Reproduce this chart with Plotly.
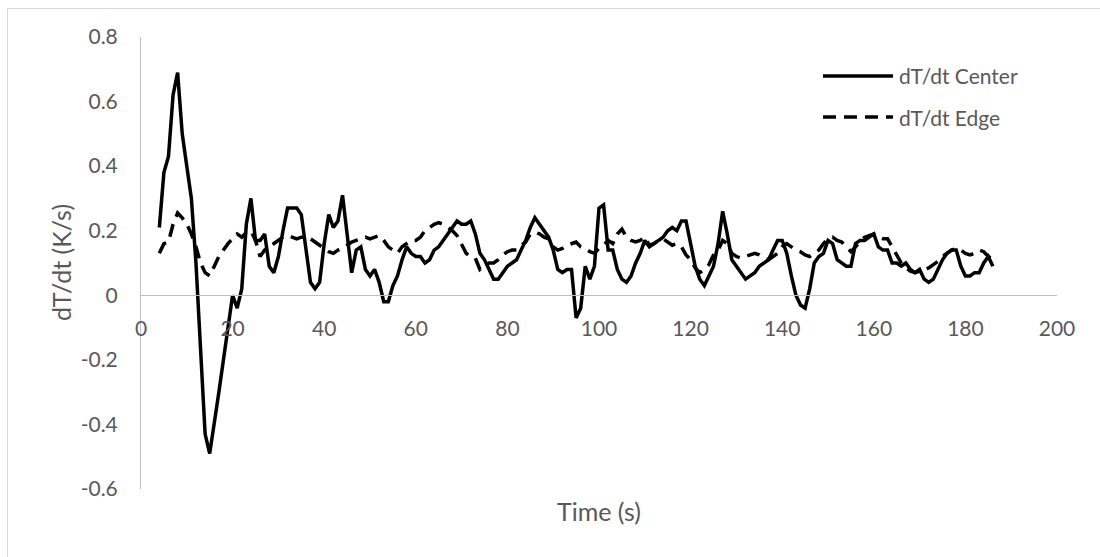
import plotly.graph_objects as go

time_s = list(range(4, 187))

center = [
    0.21, 0.38, 0.43, 0.62, 0.69, 0.50, 0.40, 0.30, 0.10, -0.17,
    -0.43, -0.49, -0.40, -0.30, -0.20, -0.10, 0.00, -0.04, 0.02, 0.22,
    0.30, 0.17, 0.17, 0.19, 0.09, 0.07, 0.12, 0.20, 0.27, 0.27,
    0.27, 0.25, 0.14, 0.04, 0.02, 0.04, 0.16, 0.25, 0.21, 0.23,
    0.31, 0.18, 0.07, 0.14, 0.15, 0.08, 0.06, 0.08, 0.04, -0.02,
    -0.02, 0.03, 0.06, 0.11, 0.15, 0.13, 0.12, 0.12, 0.10, 0.11,
    0.14, 0.15, 0.17, 0.19, 0.21, 0.23, 0.22, 0.22, 0.23, 0.19,
    0.13, 0.11, 0.08, 0.05, 0.05, 0.07, 0.09, 0.10, 0.11, 0.14,
    0.17, 0.21, 0.24, 0.22, 0.20, 0.18, 0.14, 0.08, 0.07, 0.08,
    0.08, -0.07, -0.04, 0.09, 0.05, 0.09, 0.27, 0.28, 0.14, 0.14,
    0.08, 0.05, 0.04, 0.06, 0.10, 0.13, 0.17, 0.15, 0.16, 0.17,
    0.18, 0.20, 0.21, 0.20, 0.23, 0.23, 0.16, 0.09, 0.05, 0.03,
    0.06, 0.09, 0.16, 0.26, 0.19, 0.11, 0.09, 0.07, 0.05, 0.06,
    0.07, 0.09, 0.10, 0.11, 0.14, 0.17, 0.17, 0.13, 0.06, 0.00,
    -0.03, -0.04, 0.02, 0.10, 0.12, 0.13, 0.17, 0.16, 0.11, 0.10,
    0.09, 0.09, 0.16, 0.17, 0.17, 0.18, 0.19, 0.15, 0.14, 0.14,
    0.10, 0.10, 0.09, 0.10, 0.08, 0.07, 0.08, 0.05, 0.04, 0.05,
    0.08, 0.11, 0.13, 0.14, 0.14, 0.09, 0.06, 0.06, 0.07, 0.07,
    0.10, 0.12, 0.09,
]

edge = [
    0.13, 0.16, 0.165, 0.22, 0.255, 0.24, 0.22, 0.19, 0.15, 0.10,
    0.07, 0.06, 0.09, 0.12, 0.14, 0.16, 0.175, 0.19, 0.18, 0.195,
    0.20, 0.17, 0.12, 0.14, 0.15, 0.16, 0.17, 0.18, 0.185, 0.18,
    0.175, 0.18, 0.18, 0.175, 0.165, 0.155, 0.145, 0.135, 0.13, 0.14,
    0.145, 0.155, 0.165, 0.17, 0.175, 0.18, 0.175, 0.18, 0.185, 0.17,
    0.15, 0.14, 0.13, 0.15, 0.16, 0.17, 0.17, 0.18, 0.20, 0.21,
    0.22, 0.225, 0.22, 0.21, 0.20, 0.185, 0.16, 0.13, 0.12, 0.115,
    0.08, 0.09, 0.10, 0.10, 0.11, 0.125, 0.135, 0.14, 0.14, 0.155,
    0.165, 0.19, 0.195, 0.19, 0.18, 0.175, 0.15, 0.14, 0.145, 0.155,
    0.16, 0.165, 0.15, 0.145, 0.135, 0.13, 0.145, 0.155, 0.17, 0.16,
    0.19, 0.205, 0.18, 0.17, 0.165, 0.17, 0.18, 0.155, 0.16, 0.17,
    0.175, 0.165, 0.155, 0.16, 0.15, 0.125, 0.11, 0.085, 0.07, 0.08,
    0.095, 0.125, 0.14, 0.17, 0.16, 0.13, 0.12, 0.115, 0.12, 0.125,
    0.13, 0.125, 0.115, 0.11, 0.12, 0.13, 0.15, 0.16, 0.15, 0.14,
    0.135, 0.125, 0.12, 0.13, 0.14, 0.16, 0.175, 0.18, 0.17, 0.165,
    0.15, 0.135, 0.15, 0.165, 0.18, 0.185, 0.19, 0.18, 0.175, 0.175,
    0.15, 0.12, 0.10, 0.085, 0.075, 0.07, 0.075, 0.08, 0.085, 0.095,
    0.105, 0.12, 0.13, 0.14, 0.145, 0.14, 0.13, 0.125, 0.13, 0.14,
    0.135, 0.12, 0.11,
]

series_names = ["dT/dt Center", "dT/dt Edge"]
x_ticks = [0, 20, 40, 60, 80, 100, 120, 140, 160, 180, 200]
y_ticks = [-0.6, -0.4, -0.2, 0, 0.2, 0.4, 0.6, 0.8]
y_tick_text = ["-0.6", "-0.4", "-0.2", "0", "0.2", "0.4", "0.6", "0.8"]
x_title = "Time (s)"
y_title = "dT/dt (K/s)"

FONT = "Lato, Open Sans, sans-serif"
GREY_TEXT = "#595959"
AXIS_GREY = "#BFBFBF"
LW = 3.5
DASH = "13px,8px"
TICK_SIZE = 21
LEG_SIZE = 21
TITLE_SIZE = 25

x_range = [0, 200]
y_range = [-0.6, 0.8]
zero_pos = (0 - y_range[0]) / (y_range[1] - y_range[0])

fig = go.Figure()
fig.add_trace(go.Scatter(x=time_s, y=center, mode="lines", name=series_names[0],
                         line=dict(color="black", width=LW), showlegend=False))
fig.add_trace(go.Scatter(x=time_s, y=edge, mode="lines", name=series_names[1],
                         line=dict(color="black", width=LW, dash=DASH), showlegend=False))

W, H = 1100, 557
ml, mr, mt, mb = 141, 43, 37, 68
pw, ph = W - ml - mr, H - mt - mb

def px_x(p):
    return (p - ml) / pw

def px_y(p):
    return (H - mb - p) / ph

shapes = [
    # outer chart border (top/left visible)
    dict(type="rect", xref="paper", yref="paper",
         x0=px_x(7.5), x1=px_x(1130), y0=px_y(8.5), y1=px_y(600),
         line=dict(color="#D9D9D9", width=1), fillcolor="rgba(0,0,0,0)", layer="below"),
    # legend swatches
    dict(type="line", xref="paper", yref="paper",
         x0=px_x(823), x1=px_x(893), y0=px_y(76), y1=px_y(76),
         line=dict(color="black", width=LW)),
    dict(type="line", xref="paper", yref="paper",
         x0=px_x(823), x1=px_x(893), y0=px_y(117), y1=px_y(117),
         line=dict(color="black", width=LW, dash=DASH)),
]

annotations = [
    dict(text=series_names[0], xref="paper", yref="paper", x=px_x(897), y=px_y(76),
         xanchor="left", yanchor="middle", showarrow=False,
         font=dict(family=FONT, size=LEG_SIZE, color=GREY_TEXT)),
    dict(text=series_names[1], xref="paper", yref="paper", x=px_x(897), y=px_y(117),
         xanchor="left", yanchor="middle", showarrow=False,
         font=dict(family=FONT, size=LEG_SIZE, color=GREY_TEXT)),
    dict(text=x_title, xref="paper", yref="paper", x=0.5, y=px_y(511),
         xanchor="center", yanchor="middle", showarrow=False,
         font=dict(family=FONT, size=TITLE_SIZE, color=GREY_TEXT)),
    dict(text=y_title, xref="paper", yref="paper", x=px_x(61), y=0.5, textangle=-90,
         xanchor="center", yanchor="middle", showarrow=False,
         font=dict(family=FONT, size=TITLE_SIZE, color=GREY_TEXT)),
]

fig.update_layout(
    width=W, height=H,
    margin=dict(l=ml, r=mr, t=mt, b=mb, pad=0),
    paper_bgcolor="white", plot_bgcolor="white",
    showlegend=False,
    font=dict(family=FONT, size=TICK_SIZE, color=GREY_TEXT),
    shapes=shapes, annotations=annotations,
    xaxis=dict(range=x_range, tickvals=x_ticks, ticktext=[str(v) for v in x_ticks],
               showgrid=False, zeroline=False, showline=True, linecolor=AXIS_GREY, linewidth=1,
               anchor="free", position=zero_pos,
               ticks="outside", ticklen=15, tickcolor="rgba(0,0,0,0)",
               tickfont=dict(family=FONT, size=TICK_SIZE, color=GREY_TEXT)),
    yaxis=dict(range=y_range, tickvals=y_ticks, ticktext=y_tick_text,
               showgrid=False, zeroline=False, showline=True, linecolor=AXIS_GREY, linewidth=1,
               ticks="outside", ticklen=18, tickcolor="rgba(0,0,0,0)",
               tickfont=dict(family=FONT, size=TICK_SIZE, color=GREY_TEXT)),
)

fig.write_html("out.html")
